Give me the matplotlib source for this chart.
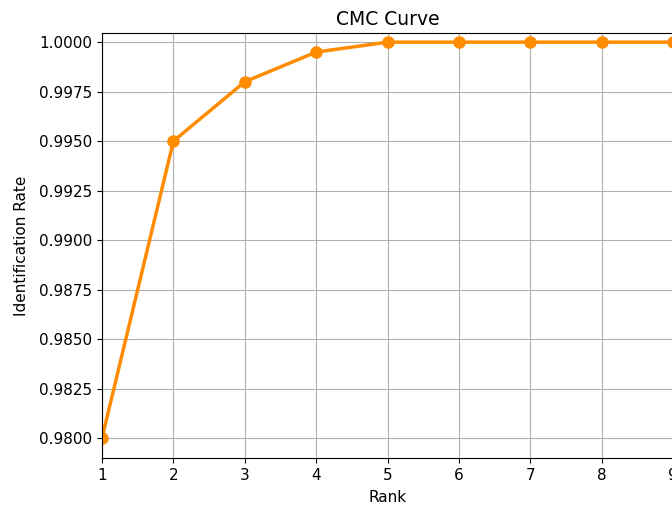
import matplotlib
matplotlib.use("Agg")
import matplotlib.pyplot as plt

# CMC data
ranks = [1, 2, 3, 4, 5, 6, 7, 8, 9]
id_rate = [0.980, 0.995, 0.998, 0.9995, 1.0, 1.0, 1.0, 1.0, 1.0]


def main():
    plt.rcParams['font.size'] = 11
    fig = plt.figure(figsize=(6.72, 5.07), dpi=100)
    # the axes run right up to (and just past) the figure edge, as in the reference
    ax = fig.add_axes([0.1518, 0.0966, 0.8500, 0.838])
    ax.plot(ranks, id_rate, color='darkorange', marker='o',
            linewidth=2.5, markersize=8)
    ax.set_xlim(1, 9)
    ax.set_ylim(0.97899, 1.000455)
    ax.set_xticks(ranks)
    ax.set_title('CMC Curve', fontsize=13.5)
    ax.set_xlabel('Rank', labelpad=5)
    ax.set_ylabel('Identification Rate', labelpad=7)
    ax.grid(True)
    fig.savefig('out.png', dpi=100)


if __name__ == '__main__':
    main()
